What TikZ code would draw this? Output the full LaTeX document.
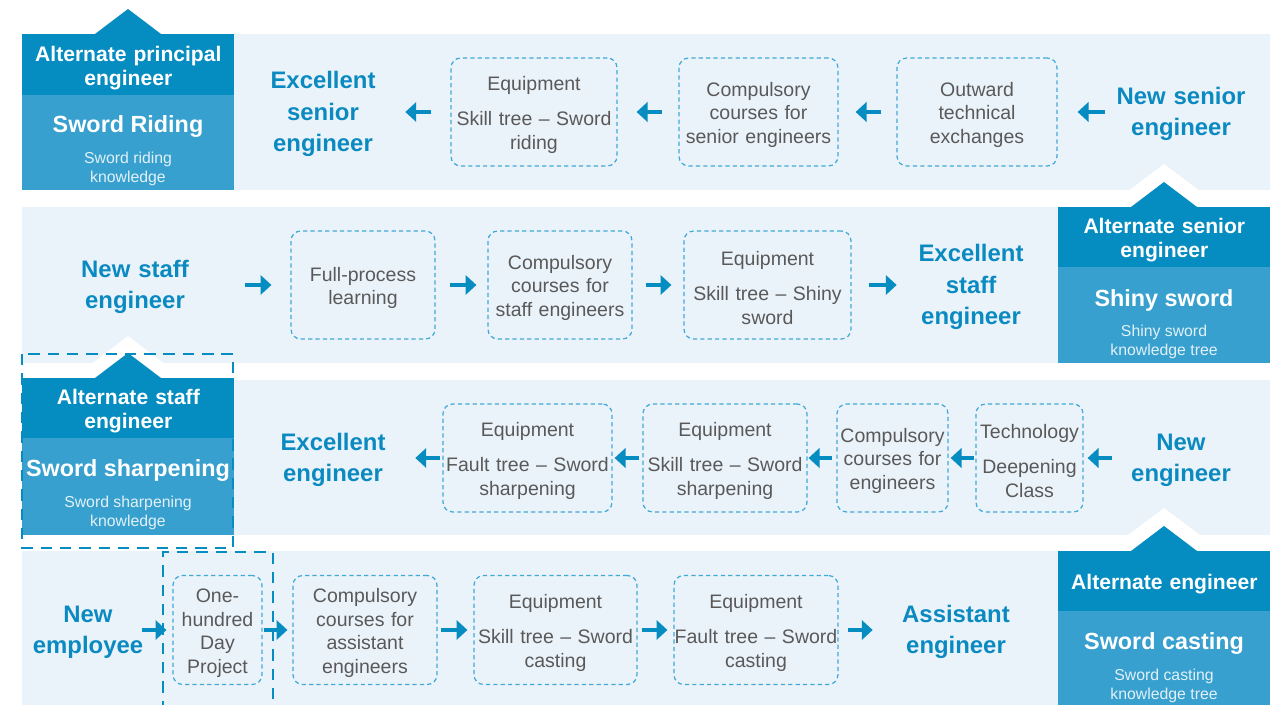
\documentclass[tikz,border=0pt]{standalone}
\usepackage{fontspec}
\setmainfont{Liberation Sans}
\usetikzlibrary{arrows.meta}
\definecolor{dkblu}{HTML}{058CC1}
\definecolor{mdblu}{HTML}{37A0CE}
\definecolor{bandbg}{HTML}{EBF3FA}
\definecolor{ttlblu}{HTML}{0A8AC1}
\definecolor{txtgry}{HTML}{595959}
\definecolor{boxblu}{HTML}{3FA9D8}
\tikzset{
  band/.style   ={fill=bandbg, draw=none},
  althdr/.style ={fill=dkblu, text=white, font=\bfseries\fontsize{12}{13.6}\selectfont,
                  align=center, text width=4.24cm, inner sep=0pt, anchor=north west,
                  execute at begin node={\rule{0pt}{12pt}}},
  altbody/.style={fill=mdblu, minimum width=4.24cm, inner sep=0pt, anchor=north west},
  altname/.style={text=white, font=\bfseries\fontsize{13.3}{15}\selectfont, inner sep=0pt},
  altnote/.style={text=white!88!dkblu, font=\fontsize{9}{10.8}\selectfont, align=center, inner sep=0pt},
  ttl/.style    ={text=ttlblu, font=\bfseries\fontsize{13.6}{18}\selectfont, align=center,
                  text width=2.6cm, inner sep=0pt, execute at begin node={\rule{0pt}{12.1pt}}},
  stepbox/.style={draw=boxblu, line width=0.7pt, dash pattern=on 2.4pt off 1.8pt,
                  rounded corners=5.5pt, text=txtgry, font=\fontsize{11.1}{13.6}\selectfont,
                  align=center, text width=#1, minimum height=2.16cm, inner sep=0pt,
                  execute at begin node={\rule{0pt}{11.4pt}}},
  arr/.style    ={-{Triangle[length=6.2pt,width=11pt]}, line width=2.1pt, draw=dkblu},
  sh/.style 2 args={shorten <=#1*0.02cm, shorten >=#2*0.02cm},
  pick/.style   ={draw=dkblu, line width=1.6pt, dash pattern=on 6.5pt off 4.5pt},
}
\begin{document}
\begin{tikzpicture}[x=0.02cm, y=-0.02cm]
  \useasboundingbox (0,0) rectangle (1277,705);

  % ---- bands ----
  \fill[band] (22,34)  rectangle (1270,190);
  \fill[band] (22,207) rectangle (1270,363);
  \fill[band] (22,380) rectangle (1270,535);
  \fill[band] (22,551) rectangle (1270,705);

  % ---- alternate principal engineer ----
  \fill[dkblu] (95,34) -- (128,9) -- (161,34) -- cycle;
  \node[althdr, minimum height=1.22cm] (alt1) at (22,34) {Alternate principal\\engineer};
  \node[altbody, minimum height=1.9cm] (kn1) at (22,95) {};
  \node[altname] (nm1) at (128,127) {Sword Riding};
  \node[altnote] (nt1) at (128,169) {Sword riding\\knowledge};

  % ---- alternate senior engineer ----
  \fill[white] (1107,207) -- (1164,164) -- (1221,207) -- cycle;
  \fill[dkblu] (1131,207) -- (1164,182) -- (1197,207) -- cycle;
  \node[althdr, minimum height=1.2cm] (alt2) at (1058,207) {Alternate senior\\engineer};
  \node[altbody, minimum height=1.92cm] (kn2) at (1058,267) {};
  \node[altname] (nm2) at (1164,300) {Shiny sword};
  \node[altnote] (nt2) at (1164,342) {Shiny sword\\knowledge tree};

  % ---- alternate staff engineer ----
  \fill[white] (73,378) -- (128,336) -- (183,378) -- cycle;
  \fill[dkblu] (95,378) -- (128,353) -- (161,378) -- cycle;
  \node[althdr, minimum height=1.2cm] (alt3) at (22,378) {Alternate staff\\engineer};
  \node[altbody, minimum height=1.94cm] (kn3) at (22,438) {};
  \node[altname] (nm3) at (128,471) {Sword sharpening};
  \node[altnote] (nt3) at (128,513) {Sword sharpening\\knowledge};

  % ---- alternate engineer ----
  \fill[white] (1107,551) -- (1164,508) -- (1221,551) -- cycle;
  \fill[dkblu] (1131,551) -- (1164,526) -- (1197,551) -- cycle;
  \node[althdr, minimum height=1.2cm] (alt4) at (1058,551) {Alternate engineer};
  \node[altbody, minimum height=1.88cm] (kn4) at (1058,611) {};
  \node[altname] (nm4) at (1164,644) {Sword casting};
  \node[altnote] (nt4) at (1164,686) {Sword casting\\knowledge tree};

  % ---- highlight frames ----
  \draw[pick] (22,354) rectangle (233,548);
  \draw[pick] (163,712) -- (163,552) -- (273,552) -- (273,712);

  % ================= senior track =================
  \node[ttl] (t1) at (323,112)  {Excellent\\senior\\engineer};
  \node[stepbox=3.32cm] (e1b1) at (534,112)   {Equipment\\[6.8pt]\mbox{Skill tree \textendash{} Sword}\\riding};
  \node[stepbox=3.18cm] (e1b2) at (758.5,112) {Compulsory\\courses for\\\mbox{senior engineers}};
  \node[stepbox=3.2cm]  (e1b3) at (977,112)   {Outward\\technical\\exchanges};
  \node[ttl] (t2) at (1181,112) {New senior\\engineer};
  \draw[arr, sh={11}{20}] (t2.west)   -- (e1b3.east);
  \draw[arr, sh={15}{17}] (e1b3.west) -- (e1b2.east);
  \draw[arr, sh={16}{19}] (e1b2.west) -- (e1b1.east);
  \draw[arr, sh={19}{17}] (e1b1.west) -- (t1.east);

  % ================= staff track =================
  \node[ttl] (t3) at (135,285) {New staff\\engineer};
  \node[stepbox=2.88cm] (s2b1) at (363,285)   {Full-process\\learning};
  \node[stepbox=2.88cm] (s2b2) at (560,285)   {Compulsory\\courses for\\\mbox{staff engineers}};
  \node[stepbox=3.34cm] (s2b3) at (767.5,285) {Equipment\\[6.8pt]\mbox{Skill tree \textendash{} Shiny}\\sword};
  \node[ttl] (t4) at (971,285) {Excellent\\staff\\engineer};
  \draw[arr, sh={45}{19}] (t3.east)   -- (s2b1.west);
  \draw[arr, sh={14}{11}] (s2b1.east) -- (s2b2.west);
  \draw[arr, sh={13}{12}] (s2b2.east) -- (s2b3.west);
  \draw[arr, sh={17}{9}]  (s2b3.east) -- (t4.west);

  % ================= engineer track =================
  \node[ttl] (t5) at (333,458) {Excellent\\engineer};
  \node[stepbox=3.38cm] (b3a) at (527.5,458)  {Equipment\\[6.8pt]\mbox{Fault tree \textendash{} Sword}\\sharpening};
  \node[stepbox=3.28cm] (b3b) at (725,458)    {Equipment\\[6.8pt]\mbox{Skill tree \textendash{} Sword}\\sharpening};
  \node[stepbox=2.22cm] (b3c) at (892.5,458)  {Compulsory\\courses for\\engineers};
  \node[stepbox=2.14cm] (b3d) at (1029.5,458) {Technology\\[6.8pt]Deepening\\Class};
  \node[ttl] (t6) at (1181,458) {New\\engineer};
  \draw[arr, sh={4}{4}]  (t6.west)  -- (b3d.east);
  \draw[arr, sh={1}{2}]  (b3d.west) -- (b3c.east);
  \draw[arr, sh={4}{1}]  (b3c.west) -- (b3b.east);
  \draw[arr, sh={3}{2}]  (b3b.west) -- (b3a.east);
  \draw[arr, sh={2}{17}] (b3a.west) -- (t5.east);

  % ================= assistant track =================
  \node[ttl] (t7) at (88,630) {New\\employee};
  \node[stepbox=1.78cm, minimum height=2.18cm] (b4a) at (217.5,630) {One-\\hundred\\Day\\Project};
  \node[stepbox=2.88cm, minimum height=2.18cm] (b4b) at (365,630)   {Compulsory\\courses for\\assistant\\engineers};
  \node[stepbox=3.26cm, minimum height=2.18cm] (b4c) at (555.5,630) {Equipment\\[6.8pt]\mbox{Skill tree \textendash{} Sword}\\casting};
  \node[stepbox=3.28cm, minimum height=2.18cm] (b4d) at (756,630)   {Equipment\\[6.8pt]\mbox{Fault tree \textendash{} Sword}\\casting};
  \node[ttl] (t8) at (956,630) {Assistant\\engineer};
  \draw[arr, sh={-11}{6}] (t7.east)  -- (b4a.west);
  \draw[arr, sh={1}{5}]   (b4a.east) -- (b4b.west);
  \draw[arr, sh={3}{6}]   (b4b.east) -- (b4c.west);
  \draw[arr, sh={4}{6}]   (b4c.east) -- (b4d.west);
  \draw[arr, sh={9}{18}]  (b4d.east) -- (t8.west);

\end{tikzpicture}
\end{document}
